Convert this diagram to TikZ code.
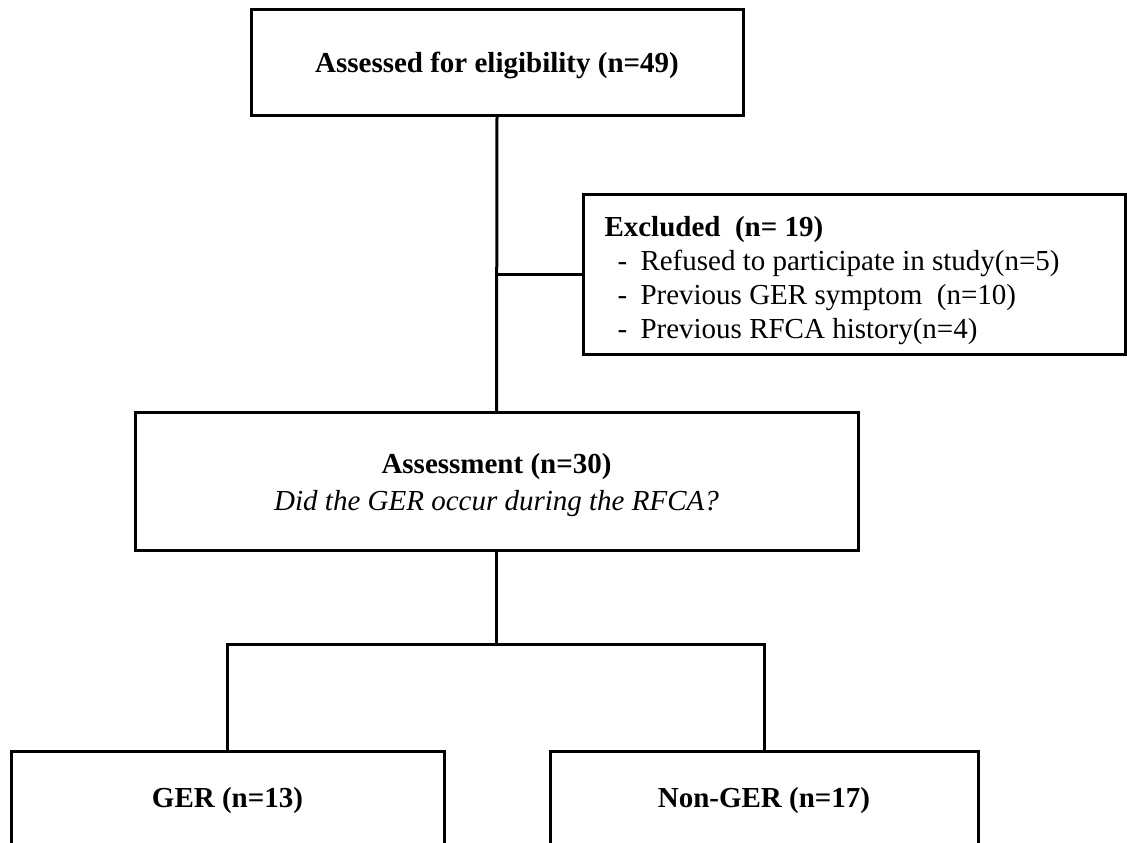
\documentclass[tikz,border=0pt]{standalone}
\usepackage{fontspec}
\setmainfont{Liberation Serif}
\begin{document}
\begin{tikzpicture}[x=1pt,y=-1pt, line width=3pt, line join=miter,
  box/.style={draw, rectangle, outer sep=0pt, inner sep=0pt, line width=3pt},
  txt/.style={font=\fontsize{29}{34}\selectfont, inner sep=0pt},
  conn/.style={line width=3pt}]
\clip (0,0) rectangle (1127,843);
\fill[white] (0,0) rectangle (1127,843);
% boxes
\node[box, minimum width=492pt, minimum height=105pt] (elig) at (497,62.5) {};
\node[txt, anchor=base] (eligt) at (497,73) {\textbf{Assessed for eligibility (n=49)}};

\node[box, minimum width=542pt, minimum height=160pt] (excl) at (854,274) {};
\node[txt, anchor=base west] (exclt) at (603,236) {\textbf{Excluded\ \ (n= 19)}};
\node[txt, anchor=base west] (d1) at (616,270) {-};
\node[txt, anchor=base west] (e1) at (639,270) {Refused to participate in study(n=5)};
\node[txt, anchor=base west] (d2) at (616,304) {-};
\node[txt, anchor=base west] (e2) at (639,304) {Previous GER symptom\ \ (n=10)};
\node[txt, anchor=base west] (d3) at (616,338) {-};
\node[txt, anchor=base west] (e3) at (639,338) {Previous RFCA history(n=4)};

\node[box, minimum width=723pt, minimum height=138pt] (assess) at (496.5,481) {};
\node[txt, anchor=base] (at1) at (496.5,473) {\textbf{Assessment (n=30)}};
\node[txt, anchor=base] (at2) at (496.5,510) {\textit{Did the GER occur during the RFCA?}};

\node[box, minimum width=433pt, minimum height=200pt] (ger) at (227.5,851) {};
\node[txt, anchor=base] (gert) at (227.5,807) {\textbf{GER (n=13)}};
\node[box, minimum width=428pt, minimum height=200pt] (nonger) at (764,851) {};
\node[txt, anchor=base] (nongert) at (764,807) {\textbf{Non-GER (n=17)}};

% connectors
\draw[conn] (elig.south) -- (assess.north);
\coordinate (j1) at (elig.south |- excl.west);
\draw[conn] (j1) -- (excl.west);
\coordinate (j2) at (496.5,644);
\draw[conn] (assess.south) -- (j2);
\draw[conn] (ger.north) -- (ger.north |- j2) -- (nonger.north |- j2) -- (nonger.north);
\end{tikzpicture}
\end{document}
